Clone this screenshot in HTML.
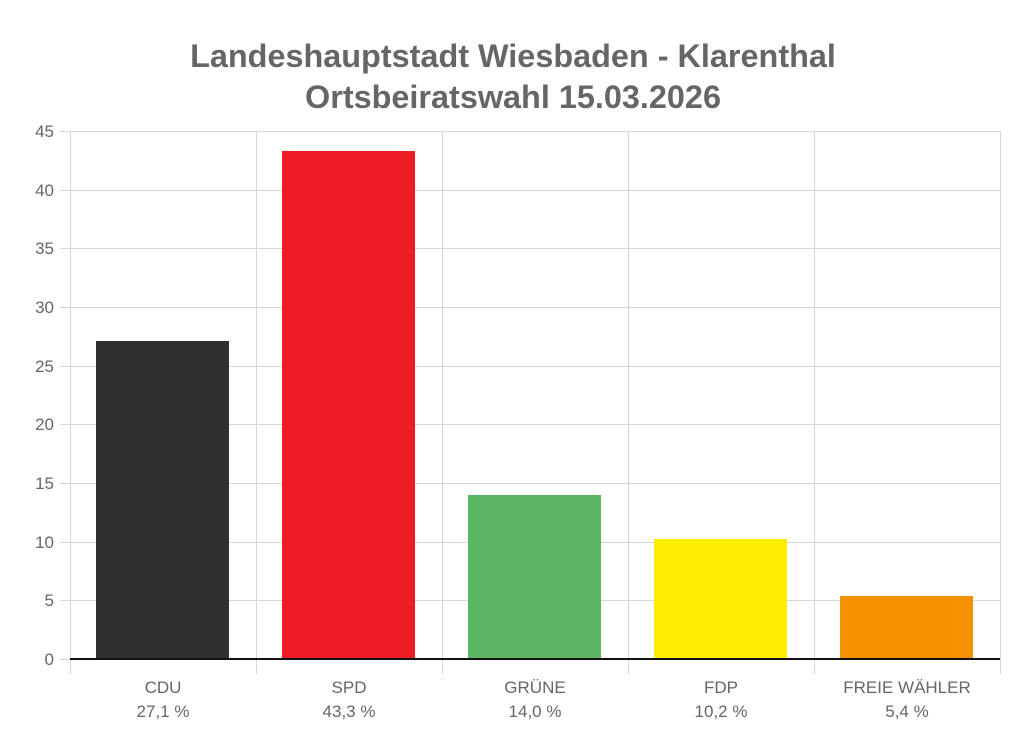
<!DOCTYPE html>
<html><head><meta charset="utf-8"><style>
body{margin:0;background:#fff;}
svg{display:block;font-family:"Liberation Sans",Arial,sans-serif;}
</style></head><body>
<svg width="1024" height="742" viewBox="0 0 1024 742">
<rect width="1024" height="742" fill="#fff"/>
<g fill="#666" font-weight="bold" font-size="32.4" text-anchor="middle">
<text x="513" y="67">Landeshauptstadt Wiesbaden - Klarenthal</text>
<text x="513" y="108">Ortsbeiratswahl 15.03.2026</text>
</g>
<g stroke="#d6d6d6" stroke-width="1">
<line x1="60" y1="131.5" x2="1000" y2="131.5"/>
<line x1="60" y1="190.5" x2="1000" y2="190.5"/>
<line x1="60" y1="248.5" x2="1000" y2="248.5"/>
<line x1="60" y1="307.5" x2="1000" y2="307.5"/>
<line x1="60" y1="366.5" x2="1000" y2="366.5"/>
<line x1="60" y1="424.5" x2="1000" y2="424.5"/>
<line x1="60" y1="483.5" x2="1000" y2="483.5"/>
<line x1="60" y1="542.5" x2="1000" y2="542.5"/>
<line x1="60" y1="600.5" x2="1000" y2="600.5"/>
<line x1="60" y1="659.5" x2="70" y2="659.5"/>
<line x1="70.5" y1="131" x2="70.5" y2="674"/>
<line x1="256.5" y1="131" x2="256.5" y2="674"/>
<line x1="442.5" y1="131" x2="442.5" y2="674"/>
<line x1="628.5" y1="131" x2="628.5" y2="674"/>
<line x1="814.5" y1="131" x2="814.5" y2="674"/>
<line x1="1000.5" y1="131" x2="1000.5" y2="674"/>
</g>
<rect x="96" y="341" width="133" height="318" fill="#303030"/>
<rect x="282" y="151" width="133" height="508" fill="#ee1c25"/>
<rect x="468" y="495" width="133" height="164" fill="#5bb562"/>
<rect x="654" y="539" width="133" height="120" fill="#ffed00"/>
<rect x="840" y="596" width="133" height="63" fill="#f59100"/>
<line x1="70" y1="659" x2="1000" y2="659" stroke="#111" stroke-width="2"/>
<g fill="#666" font-size="17" text-anchor="end">
<text x="54" y="137">45</text><text x="54" y="196">40</text><text x="54" y="254">35</text>
<text x="54" y="313">30</text><text x="54" y="372">25</text><text x="54" y="430">20</text>
<text x="54" y="489">15</text><text x="54" y="548">10</text><text x="54" y="606">5</text>
<text x="54" y="665">0</text>
</g>
<g fill="#666" font-size="17" text-anchor="middle">
<text x="163" y="693">CDU</text><text x="163" y="717">27,1 %</text>
<text x="349" y="693">SPD</text><text x="349" y="717">43,3 %</text>
<text x="535" y="693">GRÜNE</text><text x="535" y="717">14,0 %</text>
<text x="721" y="693">FDP</text><text x="721" y="717">10,2 %</text>
<text x="907" y="693">FREIE WÄHLER</text><text x="907" y="717">5,4 %</text>
</g>
</svg>
</body></html>
